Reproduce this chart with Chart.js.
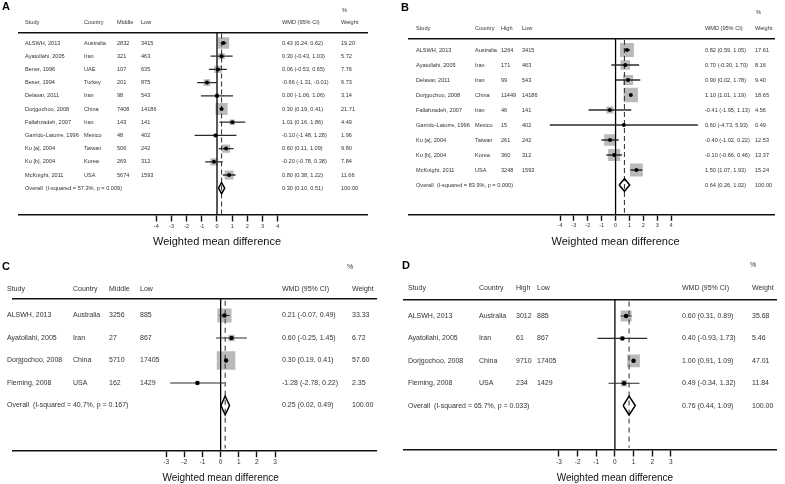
<!DOCTYPE html>
<html>
<head>
<meta charset="utf-8">
<script src="https://cdn.jsdelivr.net/npm/chart.js@4.4.1/dist/chart.umd.min.js"></script>
<style>
  body { margin: 0; background: #fff; width: 785px; height: 484px; overflow: hidden; position: relative; }
  canvas { position: absolute; }
</style>
</head>
<body>
<canvas id="cA" width="390" height="250" style="left:0;top:0"></canvas>
<canvas id="cB" width="395" height="250" style="left:390px;top:0"></canvas>
<canvas id="cC" width="390" height="234" style="left:0;top:250px"></canvas>
<canvas id="cD" width="395" height="234" style="left:390px;top:250px"></canvas>
<script>
const FONT = '"Liberation Sans", Arial, Helvetica, sans-serif';

// ---- panel A: middle vs low
const studiesA = ['ALSWH, 2013', 'Ayatollahi, 2005', 'Bener, 1996', 'Beser, 1994', 'Delavar, 2011', 'Dorjgochoo, 2008',
  'Fallahzadeh, 2007', 'Garrido-Latorre, 1996', 'Ku [a], 2004', 'Ku [b], 2004', 'McKnight, 2011'];
const countriesA = ['Australia', 'Iran', 'UAE', 'Turkey', 'Iran', 'China', 'Iran', 'Mexico', 'Taiwan', 'Korea', 'USA'];
const middleA = [2832, 321, 107, 201, 98, 7408, 143, 48, 506, 269, 5674];
const lowA = [3415, 463, 635, 875, 543, 14186, 141, 402, 242, 312, 1593];
const wmdA = [0.43, 0.30, 0.06, -0.66, 0.00, 0.30, 1.01, -0.10, 0.60, -0.20, 0.80];
const ciLoA = [0.24, -0.43, -0.53, -1.31, -1.06, 0.19, 0.16, -1.48, 0.11, -0.78, 0.38];
const ciHiA = [0.62, 1.03, 0.65, -0.01, 1.06, 0.41, 1.86, 1.28, 1.09, 0.38, 1.22];
const weightA = [19.20, 5.72, 7.76, 6.73, 3.14, 21.71, 4.49, 1.96, 9.80, 7.84, 11.66];
const overallA = [0.30, 0.10, 0.51];
const hetA = 'Overall  (I-squared = 57.3%, p = 0.009)';
const ticksA = [-4, -3, -2, -1, 0, 1, 2, 3, 4];

// ---- panel B: high vs low
const studiesB = ['ALSWH, 2013', 'Ayatollahi, 2005', 'Delavar, 2011', 'Dorjgochoo, 2008', 'Fallahzadeh, 2007',
  'Garrido-Latorre, 1996', 'Ku [a], 2004', 'Ku [b], 2004', 'McKnight, 2011'];
const countriesB = ['Australia', 'Iran', 'Iran', 'China', 'Iran', 'Mexico', 'Taiwan', 'Korea', 'USA'];
const highB = [1264, 171, 99, 11449, 46, 15, 261, 360, 3248];
const lowB = [3415, 463, 543, 14186, 141, 402, 242, 312, 1593];
const wmdB = [0.82, 0.70, 0.90, 1.10, -0.41, 0.60, -0.40, -0.10, 1.50];
const ciLoB = [0.59, -0.30, 0.02, 1.01, -1.95, -4.73, -1.02, -0.66, 1.07];
const ciHiB = [1.05, 1.70, 1.78, 1.19, 1.13, 5.93, 0.22, 0.46, 1.93];
const weightB = [17.61, 8.16, 9.40, 18.65, 4.56, 0.49, 12.53, 13.37, 15.24];
const overallB = [0.64, 0.26, 1.02];
const hetB = 'Overall  (I-squared = 83.9%, p = 0.000)';
const ticksB = [-4, -3, -2, -1, 0, 1, 2, 3, 4];

// ---- panel C: middle vs low
const studiesC = ['ALSWH, 2013', 'Ayatollahi, 2005', 'Dorjgochoo, 2008', 'Fleming, 2008'];
const countriesC = ['Australia', 'Iran', 'China', 'USA'];
const middleC = [3256, 27, 5710, 162];
const lowC = [885, 867, 17405, 1429];
const wmdC = [0.21, 0.60, 0.30, -1.28];
const ciLoC = [-0.07, -0.25, 0.19, -2.78];
const ciHiC = [0.49, 1.45, 0.41, 0.22];
const weightC = [33.33, 6.72, 57.60, 2.35];
const overallC = [0.25, 0.02, 0.49];
const hetC = 'Overall  (I-squared = 40.7%, p = 0.167)';
const ticksC = [-3, -2, -1, 0, 1, 2, 3];

// ---- panel D: high vs low
const studiesD = ['ALSWH, 2013', 'Ayatollahi, 2005', 'Dorjgochoo, 2008', 'Fleming, 2008'];
const countriesD = ['Australia', 'Iran', 'China', 'USA'];
const highD = [3012, 61, 9710, 234];
const lowD = [885, 867, 17405, 1429];
const wmdD = [0.60, 0.40, 1.00, 0.49];
const ciLoD = [0.31, -0.93, 0.91, -0.34];
const ciHiD = [0.89, 1.73, 1.09, 1.32];
const weightD = [35.68, 5.46, 47.01, 11.84];
const overallD = [0.76, 0.44, 1.09];
const hetD = 'Overall  (I-squared = 65.7%, p = 0.033)';
const ticksD = [-3, -2, -1, 0, 1, 2, 3];

const fmt = v => v.toFixed(2);

function forest(id, d, L) {
  const n = d.studies.length;
  // page y -> row units, page x -> wmd units
  const yMin = (L.ruleT - L.row0) / L.step, yMax = (L.axisY - L.row0) / L.step;
  const xMin = (L.ruleL - L.zero) / L.unit, xMax = (L.ruleR - L.zero) / L.unit;
  const [est, lo, hi] = d.overall;
  const pts = d.wmd.map((v, i) => ({ x: v, y: i }));

  const datasets = [
    { data: pts, pointStyle: 'rect', backgroundColor: '#bababa', borderWidth: 0,
      pointRadius: d.weight.map(w => L.box * Math.sqrt(w) / Math.SQRT2), order: 6 },
    { data: [{ x: 0, y: yMin }, { x: 0, y: yMax }], showLine: true, borderColor: '#000',
      borderWidth: 1.3, pointRadius: 0, order: 5 },
    { data: [{ x: est, y: yMin + 0.1 }, { x: est, y: yMax - 0.1 }], showLine: true, borderColor: '#3c3c3c',
      borderWidth: 1.1, borderDash: L.dash, pointRadius: 0, order: 4 }
  ];
  d.wmd.forEach((v, i) => datasets.push({
    data: [{ x: d.lo[i], y: i }, { x: d.hi[i], y: i }], showLine: true,
    borderColor: '#2a2a2a', borderWidth: L.ciW, pointRadius: 0, order: 3
  }));
  datasets.push({ data: pts, pointStyle: 'circle', backgroundColor: '#000', borderWidth: 0,
    pointRadius: L.dot, order: 2 });
  datasets.push({
    data: [{ x: lo, y: n }, { x: est, y: n - 0.42 }, { x: hi, y: n }, { x: est, y: n + 0.42 }, { x: lo, y: n }],
    showLine: true, borderColor: '#000', borderWidth: 1.5, pointRadius: 0, order: 1
  });

  const table = {
    id: 'table',
    afterDraw(chart) {
      const ctx = chart.ctx, ys = chart.scales.y, xs = chart.scales.x;
      const px = x => x - L.left, py = y => y - L.top;
      const c = L.cols.map(px);
      ctx.save();
      ctx.fillStyle = '#333';
      ctx.textBaseline = 'middle';
      ctx.textAlign = 'left';
      ctx.font = L.font + 'px ' + FONT;
      ['Study', 'Country', d.groupName, 'Low', 'WMD (95% CI)', 'Weight']
        .forEach((t, j) => ctx.fillText(t, c[j], py(L.headY)));
      ctx.fillText('%', px(L.pctX), py(L.pctY));
      d.studies.forEach((s, i) => {
        const y = ys.getPixelForValue(i);
        ctx.fillText(s, c[0], y);
        ctx.fillText(d.countries[i], c[1], y);
        ctx.fillText(String(d.group[i]), c[2], y);
        ctx.fillText(String(d.low[i]), c[3], y);
        ctx.fillText(fmt(d.wmd[i]) + ' (' + fmt(d.lo[i]) + ', ' + fmt(d.hi[i]) + ')', c[4], y);
        ctx.fillText(fmt(d.weight[i]), c[5], y);
      });
      const yo = ys.getPixelForValue(n);
      ctx.fillText(d.het, c[0], yo);
      ctx.fillText(fmt(est) + ' (' + fmt(lo) + ', ' + fmt(hi) + ')', c[4], yo);
      ctx.fillText('100.00', c[5], yo);
      // axis title, centred on the null line like the original
      ctx.fillStyle = '#111';
      ctx.textAlign = 'center';
      ctx.font = L.titleFont + 'px ' + FONT;
      ctx.fillText('Weighted mean difference', xs.getPixelForValue(0), py(L.titleY));
      ctx.fillStyle = '#000';
      ctx.textAlign = 'left';
      ctx.font = 'bold ' + L.letterFont + 'px ' + FONT;
      ctx.fillText(d.letter, px(L.letterX), py(L.letterY));
      ctx.restore();
    }
  };

  return new Chart(document.getElementById(id), {
    type: 'scatter',
    data: { datasets },
    options: {
      responsive: false,
      animation: false,
      events: [],
      layout: { padding: { left: L.ruleL - L.left, right: L.left + L.w - L.ruleR, top: L.ruleT - L.top, bottom: 0 } },
      plugins: { legend: { display: false }, tooltip: { enabled: false } },
      scales: {
        x: {
          type: 'linear', position: 'bottom', min: xMin, max: xMax,
          afterBuildTicks: s => { s.ticks = d.ticks.map(v => ({ value: v })); },
          afterFit: s => { s.height = L.top + L.h - L.axisY; },
          grid: { drawOnChartArea: false, drawTicks: true, tickLength: 6.5, tickWidth: 1.4, tickColor: '#111' },
          border: { display: true, color: '#111', width: 1.5 },
          ticks: { font: { family: FONT, size: L.tickFont }, color: '#333', padding: 1.5,
            autoSkip: false, maxRotation: 0, callback: v => String(v) },
          title: { display: false }
        },
        xTop: {
          type: 'linear', position: 'top', min: xMin, max: xMax,
          afterFit: s => { s.height = 0; },
          ticks: { display: false },
          grid: { drawOnChartArea: false, drawTicks: false },
          border: { display: true, color: '#111', width: 1.5 }
        },
        y: { type: 'linear', display: false, reverse: true, min: yMin, max: yMax }
      }
    },
    plugins: [table]
  });
}

forest('cA', {
  letter: 'A', groupName: 'Middle', studies: studiesA, countries: countriesA, group: middleA, low: lowA,
  wmd: wmdA, lo: ciLoA, hi: ciHiA, weight: weightA, overall: overallA, het: hetA, ticks: ticksA
}, {
  left: 0, top: 0, w: 390, h: 250, ruleL: 19, ruleR: 367, ruleT: 32.3, axisY: 215,
  zero: 217, unit: 15.17, row0: 43, step: 13.2,
  cols: [25, 84, 117, 141, 282, 341], headY: 22.7, pctX: 342, pctY: 10, letterX: 2, letterY: 7,
  font: 5.6, tickFont: 5.5, titleFont: 11, titleY: 241.7, letterFont: 11,
  box: 2.6, dot: 2, ciW: 1.3, dash: [5, 3]
});

forest('cB', {
  letter: 'B', groupName: 'High', studies: studiesB, countries: countriesB, group: highB, low: lowB,
  wmd: wmdB, lo: ciLoB, hi: ciHiB, weight: weightB, overall: overallB, het: hetB, ticks: ticksB
}, {
  left: 390, top: 0, w: 395, h: 250, ruleL: 409, ruleR: 778, ruleT: 38.5, axisY: 214.3,
  zero: 617.3, unit: 14, row0: 50, step: 15,
  cols: [416, 475, 501, 522, 705, 755], headY: 28.5, pctX: 756, pctY: 12.5, letterX: 401, letterY: 8,
  font: 5.6, tickFont: 5.5, titleFont: 11, titleY: 241.7, letterFont: 11,
  box: 3.3, dot: 2, ciW: 1.3, dash: [5, 3]
});

forest('cC', {
  letter: 'C', groupName: 'Middle', studies: studiesC, countries: countriesC, group: middleC, low: lowC,
  wmd: wmdC, lo: ciLoC, hi: ciHiC, weight: weightC, overall: overallC, het: hetC, ticks: ticksC
}, {
  left: 0, top: 250, w: 390, h: 234, ruleL: 0, ruleR: 383, ruleT: 298.5, axisY: 450.7,
  zero: 218.5, unit: 19.1, row0: 315.5, step: 22.5,
  cols: [7, 73, 109, 140, 282, 352], headY: 289, pctX: 347, pctY: 267, letterX: 2, letterY: 267,
  font: 7, tickFont: 6.5, titleFont: 10, titleY: 478.7, letterFont: 11,
  box: 2.45, dot: 2.2, ciW: 1.1, dash: [5, 4]
});

forest('cD', {
  letter: 'D', groupName: 'High', studies: studiesD, countries: countriesD, group: highD, low: lowD,
  wmd: wmdD, lo: ciLoD, hi: ciHiD, weight: weightD, overall: overallD, het: hetD, ticks: ticksD
}, {
  left: 390, top: 250, w: 395, h: 234, ruleL: 404, ruleR: 785, ruleT: 299.3, axisY: 450,
  zero: 620, unit: 19.1, row0: 316, step: 22.4,
  cols: [408, 479, 516, 537, 682, 752], headY: 288.3, pctX: 750, pctY: 265, letterX: 402, letterY: 266,
  font: 7, tickFont: 6.5, titleFont: 10, titleY: 478.7, letterFont: 11,
  box: 1.85, dot: 2.2, ciW: 1.1, dash: [5, 4]
});
</script>
</body>
</html>
